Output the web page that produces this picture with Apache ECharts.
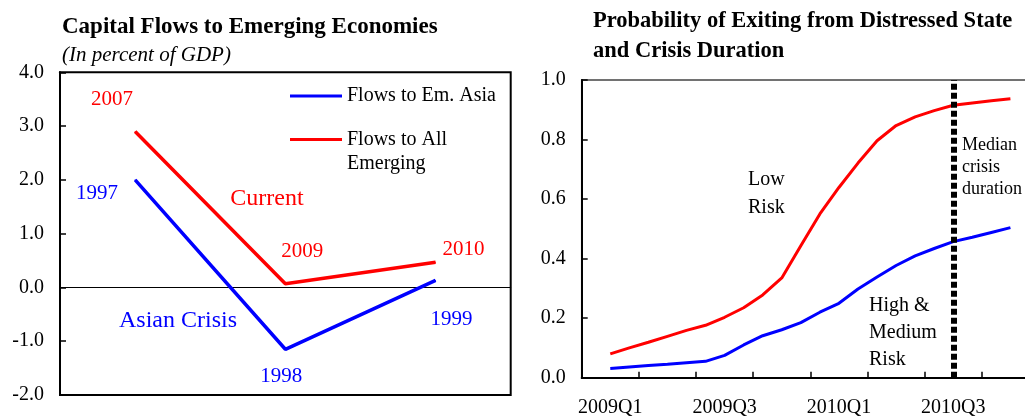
<!DOCTYPE html>
<html>
<head>
<meta charset="utf-8">
<script src="https://cdn.jsdelivr.net/npm/echarts@6/dist/echarts.min.js"></script>
<style>html,body{margin:0;padding:0;background:#fff;}#c{width:1025px;height:416px;}</style>
</head>
<body>
<div id="c"></div>
<script>
// ---- Left chart data ----
const flowCategories = ['t', 't+1', 't+2'];
const flowsAsia = [2.0, -1.15, 0.13];
const flowsAllEmerging = [2.9, 0.07, 0.47];
const asiaYears = ['1997', '1998', '1999'];
const currentYears = ['2007', '2009', '2010'];
const flowTicks = [-2, -1, 0, 1, 2, 3, 4];

// ---- Right chart data (monthly) ----
const months = ['2009-01','2009-02','2009-03','2009-04','2009-05','2009-06','2009-07','2009-08','2009-09','2009-10','2009-11','2009-12',
                '2010-01','2010-02','2010-03','2010-04','2010-05','2010-06','2010-07','2010-08','2010-09','2010-10','2010-11','2010-12'];
const quarterLabels = ['2009Q1', '2009Q3', '2010Q1', '2010Q3'];
const lowRisk = [null, 0.080, 0.100, 0.119, 0.139, 0.159, 0.176, 0.203, 0.235, 0.278, 0.335, 0.443, 0.550, 0.639, 0.721, 0.796, 0.847, 0.876, 0.897, 0.915, 0.923, 0.930, 0.937, null];
const highMediumRisk = [null, 0.031, 0.036, 0.041, 0.045, 0.050, 0.055, 0.075, 0.110, 0.141, 0.161, 0.185, 0.220, 0.250, 0.298, 0.338, 0.377, 0.409, 0.434, 0.457, 0.472, 0.488, 0.504, null];
const medianDurationMonth = '2010-08';

const FONT = '"Liberation Serif", "Times New Roman", serif';
const RED = '#FF0000', BLUE = '#0000FF';

// label offsets (pixel placement of year annotations relative to their points)
const asiaLabelOffsets = [[-38, 14], [-4, 27], [16, 39]];
const currentLabelOffsets = [[-23, -32], [17, -32], [28, -13]];

function labeled(values, names, offsets, color) {
  return values.map((v, i) => ({
    value: v,
    label: {
      show: true, position: 'inside', offset: offsets[i], formatter: names[i],
      color: color, fontFamily: FONT, fontSize: 21
    }
  }));
}

const chart = echarts.init(document.getElementById('c'), null, {renderer: 'canvas'});
chart.setOption({
  animation: false,
  backgroundColor: '#fff',
  title: [
    {text: 'Capital Flows to Emerging Economies', left: 62, top: 16, padding: 0,
     textStyle: {fontFamily: FONT, fontSize: 23, fontWeight: 'bold', color: '#000'}},
    {text: '(In percent of GDP)', left: 62, top: 45, padding: 0,
     textStyle: {fontFamily: FONT, fontSize: 21, fontStyle: 'italic', fontWeight: 'normal', color: '#000'}},
    {text: 'Probability of Exiting from Distressed State\nand Crisis Duration', left: 593, top: 6, padding: 0,
     textStyle: {fontFamily: FONT, fontSize: 22.5, fontWeight: 'bold', color: '#000', lineHeight: 30}}
  ],
  legend: {
    orient: 'vertical', left: 290, top: 86, padding: 0, itemWidth: 52, itemHeight: 3, itemGap: 23.6,
    icon: 'rect',
    data: ['Flows to Em. Asia', 'Flows to All Emerging'],
    formatter: n => n === 'Flows to All Emerging' ? 'Flows to All' : n,
    textStyle: {fontFamily: FONT, fontSize: 20, color: '#000'}
  },
  grid: [
    {left: 60, top: 72.3, width: 450.7, height: 322.7, show: true, borderColor: '#000', borderWidth: 2,
     backgroundColor: 'transparent', outerBoundsMode: 'none', containLabel: false},
    {left: 581.7, top: 80, width: 457.3, height: 297.7, show: true, borderColor: '#444', borderWidth: 1.5,
     backgroundColor: 'transparent', outerBoundsMode: 'none', containLabel: false}
  ],
  xAxis: [
    {type: 'category', gridIndex: 0, data: flowCategories, boundaryGap: true,
     axisLine: {show: true, onZero: true, lineStyle: {color: '#000', width: 1}},
     axisTick: {show: false}, axisLabel: {show: false}, splitLine: {show: false}},
    {type: 'category', gridIndex: 1, data: months, boundaryGap: true,
     axisLine: {show: true, onZero: false, lineStyle: {color: '#000', width: 2}},
     axisTick: {show: true, inside: true, length: 6, interval: i => i % 3 === 0, lineStyle: {color: '#000', width: 1.5}},
     axisLabel: {show: true, interval: i => i % 6 === 1, formatter: (v, i) => quarterLabels[(i - 1) / 6] || '',
       margin: 20, fontFamily: FONT, fontSize: 20, color: '#000'},
     splitLine: {show: false}}
  ],
  yAxis: [
    {type: 'value', gridIndex: 0, min: flowTicks[0], max: flowTicks[flowTicks.length - 1], interval: 1,
     axisLine: {show: true, lineStyle: {color: '#000', width: 2}},
     axisTick: {show: true, inside: true, length: 6, lineStyle: {color: '#000', width: 1.5}},
     axisLabel: {formatter: v => v.toFixed(1), margin: 16, fontFamily: FONT, fontSize: 20, color: '#000'},
     splitLine: {show: false}},
    {type: 'value', gridIndex: 1, min: 0, max: 1, interval: 0.2,
     axisLine: {show: true, lineStyle: {color: '#000', width: 2}},
     axisTick: {show: true, inside: true, length: 6, lineStyle: {color: '#000', width: 1.5}},
     axisLabel: {formatter: v => v.toFixed(1), margin: 16, fontFamily: FONT, fontSize: 20, color: '#000'},
     splitLine: {show: false}}
  ],
  series: [
    {name: 'Flows to Em. Asia', type: 'line', xAxisIndex: 0, yAxisIndex: 0,
     data: labeled(flowsAsia, asiaYears, asiaLabelOffsets, BLUE),
     symbol: 'circle', symbolSize: 1, showSymbol: true, itemStyle: {color: BLUE},
     lineStyle: {color: BLUE, width: 3.5}, z: 3},
    {name: 'Flows to All Emerging', type: 'line', xAxisIndex: 0, yAxisIndex: 0,
     data: labeled(flowsAllEmerging, currentYears, currentLabelOffsets, RED),
     symbol: 'circle', symbolSize: 1, showSymbol: true, itemStyle: {color: RED},
     lineStyle: {color: RED, width: 3.5}, z: 3},
    {name: 'Low Risk', type: 'line', xAxisIndex: 1, yAxisIndex: 1, data: lowRisk,
     showSymbol: false, symbol: 'none', itemStyle: {color: RED}, lineStyle: {color: RED, width: 3}, z: 3},
    {name: 'High & Medium Risk', type: 'line', xAxisIndex: 1, yAxisIndex: 1, data: highMediumRisk,
     showSymbol: false, symbol: 'none', itemStyle: {color: BLUE}, lineStyle: {color: BLUE, width: 3}, z: 3,
     markLine: {silent: true, symbol: ['none', 'none'], label: {show: false},
       lineStyle: {color: '#000', width: 6, type: [6, 3]},
       data: [{xAxis: medianDurationMonth}]}}
  ],
  graphic: [
    {type: 'text', left: 347, top: 154, style: {text: 'Emerging', font: '20px ' + FONT, fill: '#000'}},
    {type: 'text', x: 267, y: 199, style: {text: 'Current', font: '24px ' + FONT, fill: RED, align: 'center', verticalAlign: 'middle'}},
    {type: 'text', x: 178, y: 321, style: {text: 'Asian Crisis', font: '24px ' + FONT, fill: BLUE, align: 'center', verticalAlign: 'middle'}},
    {type: 'text', x: 748, y: 194, style: {text: 'Low\nRisk', font: '20px ' + FONT, fill: '#000', align: 'left', verticalAlign: 'middle', lineHeight: 27.7}},
    {type: 'text', x: 869, y: 333, style: {text: 'High &\nMedium\nRisk', font: '20px ' + FONT, fill: '#000', align: 'left', verticalAlign: 'middle', lineHeight: 27.2}},
    {type: 'text', x: 962, y: 167, style: {text: 'Median\ncrisis\nduration', font: '18px ' + FONT, fill: '#000', align: 'left', verticalAlign: 'middle', lineHeight: 22}}
  ]
});
</script>
</body>
</html>
